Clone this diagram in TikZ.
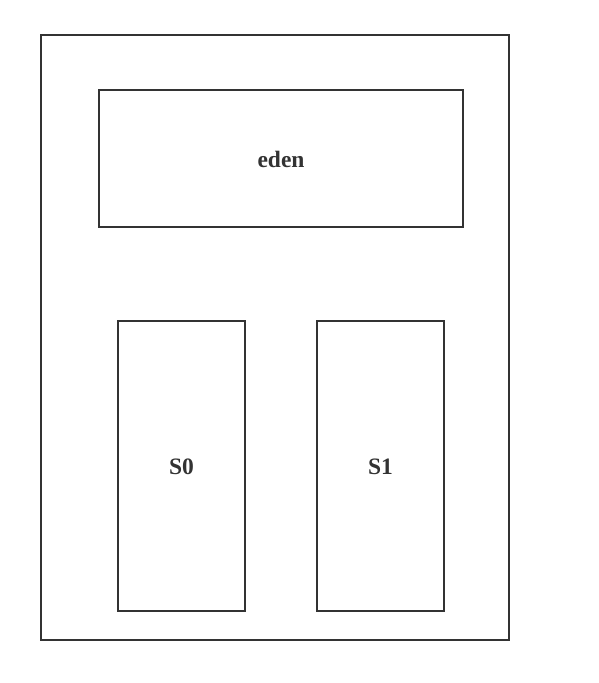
\documentclass[tikz,border=0pt]{standalone}
\usepackage{fontspec}
\setmainfont{Liberation Serif}
\begin{document}
\begin{tikzpicture}[x=1pt,y=-1pt,
  box/.style={draw=black!80,line width=1.5pt,fill=white},
  lbl/.style={font=\bfseries\fontsize{23.5}{28}\selectfont,text=black!80}]
\useasboundingbox (0,0) rectangle (598,683);
\draw[box] (41,35) rectangle (509,640);
\draw[box] (99,90) rectangle (463,227);
\node[lbl] (eden) at (281,159) {eden};
\draw[box] (118,321) rectangle (245,611);
\node[lbl] (s0) at (181.5,467) {S0};
\draw[box] (317,321) rectangle (444,611);
\node[lbl] (s1) at (380.5,467) {S1};
\end{tikzpicture}
\end{document}
